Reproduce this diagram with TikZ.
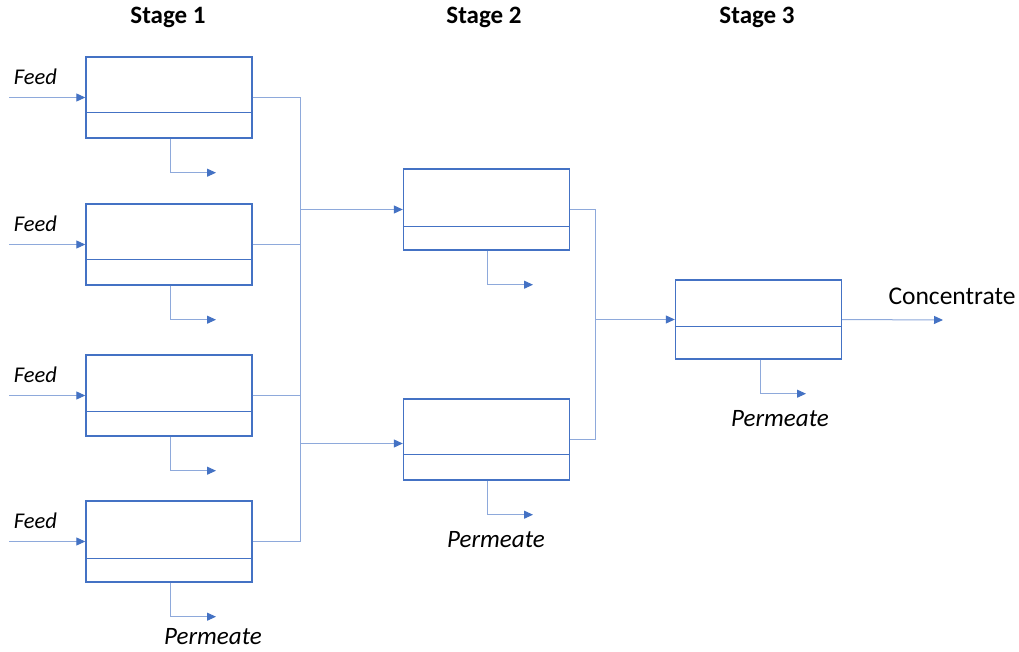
\documentclass[tikz,border=0pt]{standalone}
\usepackage{fontspec}
\setmainfont{Carlito}
\usetikzlibrary{arrows.meta}
\definecolor{boxblue}{HTML}{4472C4}
\definecolor{pipeblue}{HTML}{8EA9DB}
\begin{document}
\begin{tikzpicture}[x=1pt,y=-1pt,
  module/.style={draw=boxblue,line width=1.4pt,minimum width=166pt,minimum height=81pt,inner sep=0pt,fill=white},
  pipe/.style={draw=pipeblue,line width=1pt},
  flow/.style={pipe,-{Triangle[length=9pt,width=8pt,fill=boxblue,color=boxblue]}},
  stagelabel/.style={font=\fontsize{25}{29}\selectfont\bfseries},
  feedlabel/.style={font=\fontsize{22.5}{26}\selectfont\itshape},
  streamlabel/.style={font=\fontsize{25}{29}\selectfont\itshape},
  outlabel/.style={font=\fontsize{25.5}{29}\selectfont}
]
\useasboundingbox[fill=white] (0,0) rectangle (1019,652);

% stage headings
\node[stagelabel] (h1) at (168,17) {Stage 1};
\node[stagelabel] (h2) at (484,17) {Stage 2};
\node[stagelabel] (h3) at (757,17) {Stage 3};

% membrane modules
\node[module] (m1a) at (169,97.5) {};
\node[module] (m1b) at (169,244.5) {};
\node[module] (m1c) at (169,395.5) {};
\node[module] (m1d) at (169,541.5) {};
\node[module] (m2a) at (486.5,209.5) {};
\node[module] (m2b) at (486.5,439.5) {};
\node[module,minimum height=79pt] (m3) at (758.5,319.5) {};

% membrane dividers
\foreach \m/\d in {m1a/56,m1b/56,m1c/57,m1d/58,m2a/58,m2b/56,m3/47}{
  \draw[boxblue,line width=1.4pt] ([yshift=-\d pt]\m.north west) -- ([yshift=-\d pt]\m.north east);
}

% feed streams
\foreach \m in {m1a,m1b,m1c,m1d}{
  \coordinate (f-\m) at ([xshift=-76pt]\m.west);
  \draw[flow] (f-\m) -- (\m.west);
  \node[feedlabel,anchor=south west] (fl-\m) at ([xshift=1pt,yshift=9pt]f-\m) {Feed};
}

% stage 1 concentrate collectors
\coordinate (busA) at (300,0);
\coordinate (busB) at (595,0);
\draw[pipe] (m1a.east) -- (m1a.east -| busA) -- (m1d.east -| busA) -- (m1d.east);
\draw[pipe] (m1b.east) -- (m1b.east -| busA);
\draw[pipe] (m1c.east) -- (m1c.east -| busA);
\draw[flow] (m2a.west -| busA) -- (m2a.west);
\draw[flow] ([yshift=-4pt]m2b.west -| busA) -- ([yshift=-4pt]m2b.west);

% stage 2 concentrate collector
\draw[pipe] (m2a.east) -- (m2a.east -| busB) -- (m2b.east -| busB) -- (m2b.east);
\draw[flow] (m3.west -| busB) -- (m3.west);

% final concentrate
\coordinate (cout) at (943,320);
\draw[flow] (m3.east) -- (cout);
\node[outlabel] (cl) at (952,296) {Concentrate};

% permeate streams
\foreach \m/\dx in {m1a/1,m1b/1,m1c/1,m1d/1,m2a/0.5,m2b/0.5,m3/1.5}{
  \coordinate (p1-\m) at ([xshift=\dx pt,yshift=-34pt]\m.south);
  \draw[flow] ([xshift=\dx pt]\m.south) -- (p1-\m) -- ++(46,0) coordinate (p2-\m);
}
\node[streamlabel] (pl1) at (213,637) {Permeate};
\node[streamlabel] (pl2) at (496,540) {Permeate};
\node[streamlabel] (pl3) at (780,419) {Permeate};
\end{tikzpicture}
\end{document}
